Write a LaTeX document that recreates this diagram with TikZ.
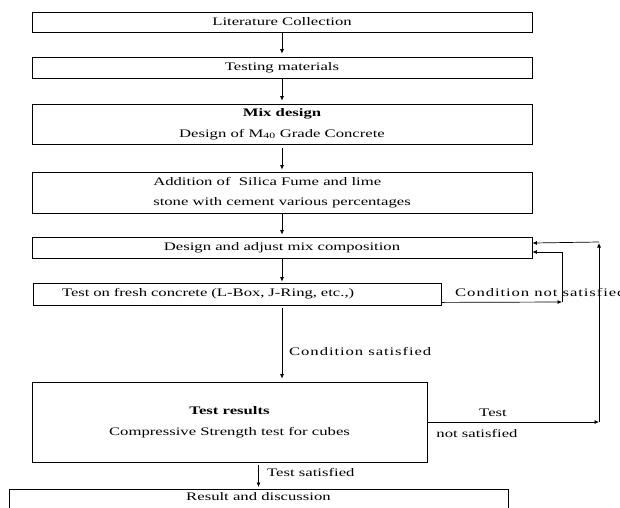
\documentclass[tikz,border=0pt]{standalone}
\usepackage{fontspec}
\setmainfont{Liberation Serif}[FakeStretch=1.45]
\newfontfamily\spreadfont{Liberation Serif}[FakeStretch=1.45,LetterSpace=8]
\usetikzlibrary{positioning,arrows.meta}

\begin{document}
\begin{tikzpicture}[x=1pt,y=-1pt,
box/.style={draw,line width=0.8pt,align=center,minimum width=500pt,inner sep=0pt,font=\fontsize{11.5}{20.5}\selectfont},
lbl/.style={inner sep=0pt,font=\fontsize{11.5}{20.5}\selectfont},
wide/.style={inner sep=0pt,font=\fontsize{11.5}{20.5}\spreadfont},
arrow/.style={-{Latex[length=4.5pt,width=4pt]},line width=0.7pt}]
\fill[white](0,0) rectangle (620,507);
\clip (0,0) rectangle (620,507);
\node[box,minimum height=20pt](lit) at (282,22){Literature Collection};
\node[box,minimum height=21pt](mat) at (282,67.5){Testing materials};
\node[box,minimum height=40pt](mix) at (282,124){\textbf{Mix design}\\Design of M\textsubscript{40} Grade Concrete};
\node[box,minimum height=41pt,align=left](add) at (282,192.5){Addition of\ \ Silica Fume and lime\\stone with cement various percentages};
\node[box,minimum height=21pt](adj) at (282,247.5){Design and adjust mix composition};
\node[box,minimum width=408pt,minimum height=22pt,text width=350pt,align=left,inner xsep=29pt](fresh) at (237,294){Test on fresh concrete (L-Box, J-Ring, etc.,)};
\node[box,minimum width=395pt,minimum height=80pt](res) at (229.5,422){\textbf{Test results}\\Compressive Strength test for cubes};
\node[box,minimum width=499pt,anchor=north,inner ysep=3pt,text depth=16pt](disc) at (258.5,489){Result and discussion};
\node[wide,anchor=west](cs) at (289,351){Condition satisfied};
\node[wide,anchor=west](cns) at (455,292){Condition not satisfied};
\node[lbl](tns1) at (493,413){Test};
\node[lbl](tns2) at (477,433){not satisfied};
\node[lbl,anchor=west](ts) at (267,472){Test satisfied};
\coordinate (c1) at (562,302);\coordinate (c1t) at (562,252);
\coordinate (c2) at (599,422);\coordinate (c2t) at (599,243);
\draw[arrow,shorten >=3pt](lit)--(mat);\draw[arrow,shorten >=3pt](mat)--(mix);\draw[arrow,shorten <=4pt,shorten >=2pt](mix)--(add);
\draw[arrow,shorten >=2pt](add)--(adj);\draw[arrow,shorten >=1pt](adj)--(adj|-fresh.north);
\draw[arrow,shorten <=3pt,shorten >=3pt](fresh.south-|adj.south)--(res.north-|adj.south);
\draw[arrow,shorten <=3pt,shorten >=2pt](res.south-|disc.north)--(disc.north);
\draw[arrow]([yshift=3pt]fresh.south east)--(c1);\draw[arrow](c1)--(c1t)--(adj.east|-c1t);
\draw[arrow](res.east)--(c2);\draw[arrow](c2)--(c2t);\draw[arrow]([yshift=1pt]c2t)--(adj.east|-c2t);
\end{tikzpicture}
\end{document}
